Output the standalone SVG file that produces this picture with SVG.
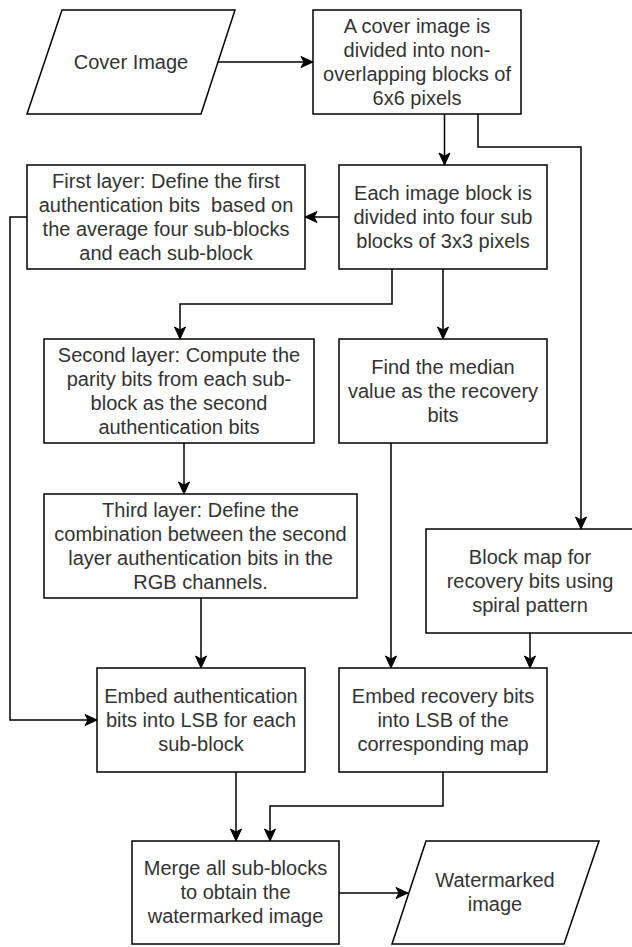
<svg xmlns="http://www.w3.org/2000/svg" width="632" height="947" viewBox="0 0 632 947">
<style>
.s{fill:#fff;stroke:#000;stroke-width:1.5}
.c{fill:none;stroke:#000;stroke-width:1.5}
text{font-family:"Liberation Sans",Arial,sans-serif;font-size:20px;fill:#333;text-anchor:middle;dominant-baseline:central}
</style>
<defs>
<marker id="a" markerUnits="userSpaceOnUse" markerWidth="14" markerHeight="12" refX="12" refY="6" orient="auto" overflow="visible">
<path d="M0,0.5 L12,6 L0,11.5 L3,6 z" fill="#000" stroke="#000" stroke-width="1"/>
</marker>
</defs>
<rect width="632" height="947" fill="#fff"/>
<g id="connectors">
<path class="c" d="M218,62 H313" marker-end="url(#a)"/>
<path class="c" d="M444.5,114 V165" marker-end="url(#a)"/>
<path class="c" d="M478,114 V147 H581 V529" marker-end="url(#a)"/>
<path class="c" d="M339,217 H305" marker-end="url(#a)"/>
<path class="c" d="M27,217 H10 V720 H97" marker-end="url(#a)"/>
<path class="c" d="M392,269 V304 H180 V339" marker-end="url(#a)"/>
<path class="c" d="M443,269 V339" marker-end="url(#a)"/>
<path class="c" d="M184,443 V494" marker-end="url(#a)"/>
<path class="c" d="M201,598 V668" marker-end="url(#a)"/>
<path class="c" d="M391,443 V668" marker-end="url(#a)"/>
<path class="c" d="M530,633 V668" marker-end="url(#a)"/>
<path class="c" d="M236,772 V841" marker-end="url(#a)"/>
<path class="c" d="M443,772 V806 H270 V841" marker-end="url(#a)"/>
<path class="c" d="M339,893 H408" marker-end="url(#a)"/>
</g>
<g id="cover">
<polygon class="s" points="62,10 235,10 201,114 27,114"/>
<text x="131" y="62">Cover Image</text>
</g>
<g id="divide">
<rect class="s" x="313" y="10" width="208" height="104"/>
<text x="417" y="26">A cover image is</text>
<text x="417" y="50">divided into non-</text>
<text x="417" y="74">overlapping blocks of</text>
<text x="417" y="98">6x6 pixels</text>
</g>
<g id="subblocks">
<rect class="s" x="339" y="165" width="208" height="104"/>
<text x="443" y="193">Each image block is</text>
<text x="443" y="217">divided into four sub</text>
<text x="443" y="241">blocks of 3x3 pixels</text>
</g>
<g id="first">
<rect class="s" x="27" y="165" width="278" height="104"/>
<text x="166" y="181">First layer: Define the first</text>
<text x="166" y="205" xml:space="preserve">authentication bits  based on</text>
<text x="166" y="229">the average four sub-blocks</text>
<text x="166" y="253">and each sub-block</text>
</g>
<g id="second">
<rect class="s" x="44" y="339" width="270" height="104"/>
<text x="179" y="355">Second layer: Compute the</text>
<text x="179" y="379">parity bits from each sub-</text>
<text x="179" y="403">block as the second</text>
<text x="179" y="427">authentication bits</text>
</g>
<g id="median">
<rect class="s" x="339" y="339" width="208" height="104"/>
<text x="443" y="367">Find the median</text>
<text x="443" y="391">value as the recovery</text>
<text x="443" y="415">bits</text>
</g>
<g id="third">
<rect class="s" x="44" y="494" width="313" height="104"/>
<text x="200.5" y="510">Third layer: Define the</text>
<text x="200.5" y="534">combination between the second</text>
<text x="200.5" y="558">layer authentication bits in the</text>
<text x="200.5" y="582">RGB channels.</text>
</g>
<g id="blockmap">
<rect class="s" x="426" y="529" width="208" height="104"/>
<text x="530" y="557">Block map for</text>
<text x="530" y="581">recovery bits using</text>
<text x="530" y="605">spiral pattern</text>
</g>
<g id="embedauth">
<rect class="s" x="97" y="668" width="208" height="104"/>
<text x="201" y="696">Embed authentication</text>
<text x="201" y="720">bits into LSB for each</text>
<text x="201" y="744">sub-block</text>
</g>
<g id="embedrec">
<rect class="s" x="339" y="668" width="208" height="104"/>
<text x="443" y="696">Embed recovery bits</text>
<text x="443" y="720">into LSB of the</text>
<text x="443" y="744">corresponding map</text>
</g>
<g id="merge">
<rect class="s" x="132" y="841" width="207" height="103"/>
<text x="235.5" y="868">Merge all sub-blocks</text>
<text x="235.5" y="892">to obtain the</text>
<text x="235.5" y="916">watermarked image</text>
</g>
<g id="watermarked">
<polygon class="s" points="426,841 599,841 564,944 392,944"/>
<text x="495" y="880">Watermarked</text>
<text x="495" y="904">image</text>
</g>
</svg>
